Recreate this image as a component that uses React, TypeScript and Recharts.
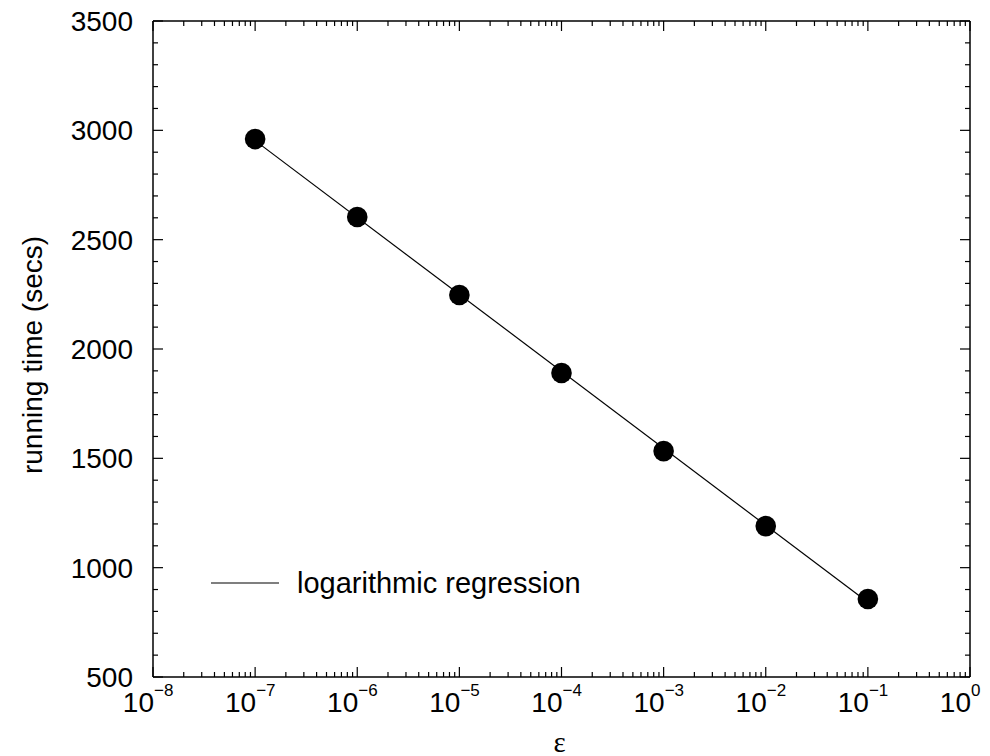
import React from 'react';
import { ComposedChart, Scatter, XAxis, YAxis } from 'recharts';

// ε values are stored as base-10 exponents (ε = 10^x)
const epsExponents = [-7, -6, -5, -4, -3, -2, -1];
const runningTimes = [2960, 2604, 2247, 1890, 1533, 1190, 857];
const regressionExponents = [-7, -1];
const regressionTimes = [2953, 842];

const xMajorTicks = [-8, -7, -6, -5, -4, -3, -2, -1, 0];
const xMinorMultipliers = [2, 3, 4, 5, 6, 7, 8, 9];
const yMajorTicks = [500, 1000, 1500, 2000, 2500, 3000, 3500];
const yMinorStep = 100;

const legendLabel = 'logarithmic regression';
const xLabel = 'ε';
const yLabel = 'running time (secs)';

const pointData = epsExponents.map((x, i) => ({ x, y: runningTimes[i] }));
const regressionData = regressionExponents.map((x, i) => ({ x, y: regressionTimes[i] }));

const xTicks: number[] = [];
xMajorTicks.forEach((e) => {
  xTicks.push(e);
  if (e < 0) xMinorMultipliers.forEach((m) => xTicks.push(e + Math.log10(m)));
});
const yTicks: number[] = [];
for (let v = yMajorTicks[0]; v <= yMajorTicks[yMajorTicks.length - 1]; v += yMinorStep) yTicks.push(v);

const SANS = '"Liberation Sans", Arial, Helvetica, sans-serif';
const SERIF = '"Liberation Serif", "Times New Roman", serif';
const MAJOR = 10;
const MINOR = 5;
const TICK_W = 1.2;
const TICK_FONT = 28;

const isMajorX = (v: number) => Math.abs(v - Math.round(v)) < 1e-9;
const isMajorY = (v: number) => yMajorTicks.includes(v);
const expLabel = (v: number) => {
  const r = Math.round(v);
  return r === 0 ? '0' : (r < 0 ? '\u2212' : '') + Math.abs(r);
};

const BottomTick = (props: any) => {
  const { x, y, payload } = props;
  const v = payload.value;
  const major = isMajorX(v);
  return (
    <g>
      <line x1={x} y1={y} x2={x} y2={y - (major ? MAJOR : MINOR)} stroke="#000" strokeWidth={TICK_W} />
      {major && (
        <>
          <text x={x + 1} y={y + 35} textAnchor="end" fontSize={TICK_FONT} fontFamily={SANS} fill="#000">10</text>
          <text x={x + 1} y={y + 19} textAnchor="start" fontSize={17} fontFamily={SANS} fill="#000">{expLabel(v)}</text>
        </>
      )}
    </g>
  );
};

const TopTick = (props: any) => {
  const { x, y, payload } = props;
  const major = isMajorX(payload.value);
  return <line x1={x} y1={y} x2={x} y2={y + (major ? MAJOR : MINOR)} stroke="#000" strokeWidth={TICK_W} />;
};

const LeftTick = (props: any) => {
  const { x, y, payload } = props;
  const v = payload.value;
  const major = isMajorY(v);
  return (
    <g>
      <line x1={x} y1={y} x2={x + (major ? MAJOR : MINOR)} y2={y} stroke="#000" strokeWidth={TICK_W} />
      {major && (
        <text x={x - 20} y={y + 10} textAnchor="end" fontSize={TICK_FONT} fontFamily={SANS} fill="#000">{v}</text>
      )}
    </g>
  );
};

const RightTick = (props: any) => {
  const { x, y, payload } = props;
  const major = isMajorY(payload.value);
  return <line x1={x} y1={y} x2={x - (major ? MAJOR : MINOR)} y2={y} stroke="#000" strokeWidth={TICK_W} />;
};

const Dot = (props: any) => {
  const { cx, cy } = props;
  if (cx == null || cy == null) return null;
  return <circle cx={cx} cy={cy} r={10.3} fill="#000" />;
};

const NoShape = () => null;

const YLabel = (props: any) => {
  const vb = props.viewBox || {};
  const cx = vb.x - 31;
  const cy = vb.y + vb.height / 2 + 6;
  return (
    <text x={cx} y={cy} transform={`rotate(-90, ${cx}, ${cy})`} textAnchor="middle" fontSize={28} fontFamily={SANS} fill="#000">
      {yLabel}
    </text>
  );
};

const XLabel = (props: any) => {
  const vb = props.viewBox || {};
  const cx = vb.x + vb.width / 2 - 2;
  const cy = vb.y + 75;
  return (
    <text x={cx} y={cy} textAnchor="middle" fontSize={29} fontFamily={SERIF} fill="#000">
      {xLabel}
    </text>
  );
};

const axisLine = { stroke: '#000', strokeWidth: 1.5 };

export default function App() {
  return (
    <div style={{ position: 'relative', width: 982, height: 748 }}>
      <ComposedChart
        width={982}
        height={748}
        margin={{ top: 8, right: 10, bottom: 19, left: 65 }}
        style={{ background: '#fff' }}
      >
        <XAxis
          xAxisId="b"
          type="number"
          dataKey="x"
          domain={[-8, 0]}
          ticks={xTicks}
          interval={0}
          allowDataOverflow
          height={60}
          tickSize={0}
          tickMargin={0}
          tickLine={false}
          axisLine={axisLine}
          tick={<BottomTick />}
          label={<XLabel />}
        />
        <XAxis
          xAxisId="t"
          orientation="top"
          type="number"
          dataKey="x"
          domain={[-8, 0]}
          ticks={xTicks}
          interval={0}
          allowDataOverflow
          height={5}
          tickSize={0}
          tickMargin={0}
          tickLine={false}
          axisLine={axisLine}
          tick={<TopTick />}
        />
        <YAxis
          yAxisId="l"
          type="number"
          dataKey="y"
          domain={[500, 3500]}
          ticks={yTicks}
          interval={0}
          allowDataOverflow
          width={80}
          tickSize={0}
          tickMargin={0}
          tickLine={false}
          axisLine={axisLine}
          tick={<LeftTick />}
          label={<YLabel />}
        />
        <YAxis
          yAxisId="r"
          orientation="right"
          type="number"
          dataKey="y"
          domain={[500, 3500]}
          ticks={yTicks}
          interval={0}
          allowDataOverflow
          width={10}
          tickSize={0}
          tickMargin={0}
          tickLine={false}
          axisLine={axisLine}
          tick={<RightTick />}
        />
        <Scatter
          xAxisId="b"
          yAxisId="l"
          data={regressionData}
          line={{ stroke: '#000', strokeWidth: 1.2 }}
          shape={<NoShape />}
          isAnimationActive={false}
        />
        <Scatter
          xAxisId="t"
          yAxisId="r"
          data={pointData}
          shape={<Dot />}
          isAnimationActive={false}
        />
      </ComposedChart>
      <div style={{ position: 'absolute', left: 195, top: 555, display: 'flex', alignItems: 'center' }}>
        <svg width={320} height={40} style={{ overflow: 'visible' }}>
          <line x1={8} y1={20} x2={76} y2={20} stroke="#000" strokeWidth={1.2} />
          <text x={94} y={30} fontSize={29} fontFamily={SANS} fill="#000">{legendLabel}</text>
        </svg>
      </div>
    </div>
  );
}
